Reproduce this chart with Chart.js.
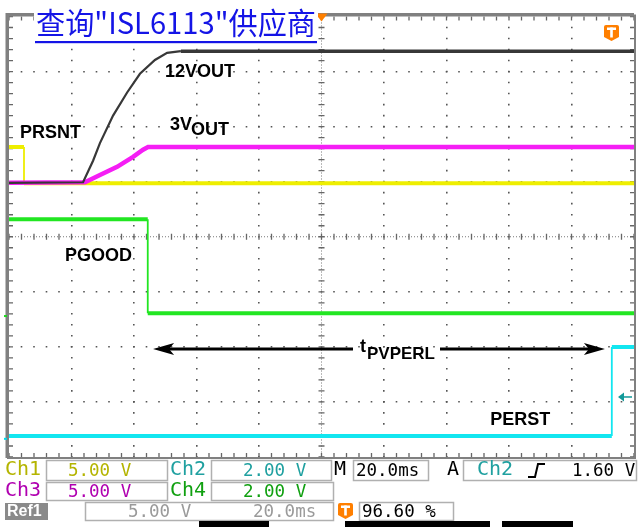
<!DOCTYPE html>
<html>
<head>
<meta charset="utf-8">
<script src="https://cdn.jsdelivr.net/npm/chart.js@4.4.1/dist/chart.umd.min.js"></script>
<style>
  html, body { margin: 0; padding: 0; background: #fff; overflow: hidden; }
  canvas { display: block; }
</style>
</head>
<body>
<canvas id="scope" width="639" height="527"></canvas>
<script>
// scope screen: 20 ms/div over 10 div, vertical in divisions (0 = bottom, 8 = top)
const xTicks = [0, 20, 40, 60, 80, 100, 120, 140, 160, 180, 200];
const yTicks = [0, 1, 2, 3, 4, 5, 6, 7, 8];

// Ch1 - PRSNT (yellow)
const ch1Time  = [0, 4.8, 4.8, 200];
const ch1Level = [5.63, 5.63, 4.97, 4.97];

// 12VOUT (black)
const v12Time  = [0, 23.7, 26.9, 29.1, 33.3, 37.8, 41.9, 46.7, 50.6, 55, 200];
const v12Level = [4.98, 4.99, 5.38, 5.70, 6.20, 6.62, 6.96, 7.21, 7.34, 7.37, 7.37];

// Ch3 - 3VOUT (magenta)
const ch3Time  = [0, 24.3, 29.1, 34.6, 39.7, 42.9, 44.5, 200];
const ch3Level = [4.98, 4.99, 5.12, 5.27, 5.45, 5.58, 5.63, 5.63];

// Ch4 - PGOOD (green)
const ch4Time  = [0, 44.4, 44.4, 200];
const ch4Level = [4.32, 4.32, 2.61, 2.61];

// Ch2 - PERST (cyan)
const ch2Time  = [0, 192.9, 192.9, 200];
const ch2Level = [0.38, 0.38, 2.00, 2.00];

// tPVPERL arrow (ms) and its level (div)
const arrowSpan = [46.1, 190.7];
const arrowLevel = 1.96;

const pts = (xs, ys) => xs.map((x, i) => ({ x: x, y: ys[i] }));
const edgeWidth = w => ctx => ctx.p0.parsed.x === ctx.p1.parsed.x ? 1.8 : w;
const flatWidth = (wFlat, wRamp) => ctx => ctx.p0.parsed.y === ctx.p1.parsed.y ? wFlat : wRamp;

const MONO = '"DejaVu Sans Mono", monospace';
const BOLD = 'bold 18px "Liberation Sans", Arial, sans-serif';
const SUB = 'bold 17px "Liberation Sans", Arial, sans-serif';

function box(ctx, x1, y1, x2, y2) {
    ctx.strokeStyle = '#b0b0b0';
    ctx.lineWidth = 1.5;
    ctx.strokeRect(x1 + 0.5, y1 + 0.5, x2 - x1, y2 - y1);
}

function txt(ctx, s, x, y, color, font) {
    ctx.fillStyle = color;
    ctx.font = font;
    ctx.textBaseline = 'middle';
    ctx.textAlign = 'left';
    ctx.fillText(s, x, y);
}

function tIcon(ctx, x, y) {
    ctx.fillStyle = '#ff7f00';
    ctx.beginPath();
    ctx.moveTo(x + 2, y);
    ctx.lineTo(x + 13, y);
    ctx.quadraticCurveTo(x + 15, y, x + 15, y + 2);
    ctx.lineTo(x + 15, y + 12);
    ctx.lineTo(x + 7.5, y + 16);
    ctx.lineTo(x, y + 12);
    ctx.lineTo(x, y + 2);
    ctx.quadraticCurveTo(x, y, x + 2, y);
    ctx.fill();
    ctx.fillStyle = '#fff';
    ctx.fillRect(x + 3, y + 2.5, 9, 2.5);
    ctx.fillRect(x + 6.2, y + 2.5, 2.6, 10);
}

const scopePlugin = {
    id: 'scope',
    beforeDraw(chart) {
        const c = chart.ctx;
        c.save();
        c.fillStyle = '#fff';
        c.fillRect(0, 0, chart.width, chart.height);
        c.restore();
    },
    beforeDatasetsDraw(chart) {
        const c = chart.ctx;
        const a = chart.chartArea;
        const sx = chart.scales.x, sy = chart.scales.y;
        const cx = sx.getPixelForValue(100), cy = sy.getPixelForValue(4);
        const subX = (sx.getPixelForValue(20) - sx.getPixelForValue(0)) / 5;
        const subY = (sy.getPixelForValue(0) - sy.getPixelForValue(1)) / 5;
        c.save();
        // centre cross: fine dots with small ticks
        c.strokeStyle = '#777';
        c.lineWidth = 1;
        c.setLineDash([1, 2]);
        c.beginPath();
        c.moveTo(cx, a.top); c.lineTo(cx, a.bottom);
        c.moveTo(a.left, cy); c.lineTo(a.right, cy);
        c.stroke();
        c.setLineDash([]);
        c.strokeStyle = '#666';
        c.lineWidth = 1.3;
        c.beginPath();
        for (let i = 0; i <= 40; i++) {
            const y = a.top + i * subY;
            c.moveTo(cx - 3, y); c.lineTo(cx + 3, y);
            c.moveTo(a.left, y); c.lineTo(a.left + 4, y);
            c.moveTo(a.right - 4, y); c.lineTo(a.right, y);
        }
        for (let i = 0; i <= 50; i++) {
            const x = a.left + i * subX;
            c.moveTo(x, cy - 3); c.lineTo(x, cy + 3);
            c.moveTo(x, a.top); c.lineTo(x, a.top + 4);
            c.moveTo(x, a.bottom - 4); c.lineTo(x, a.bottom);
        }
        c.stroke();
        // frame
        c.strokeStyle = '#808080';
        c.lineWidth = 2;
        c.strokeRect(a.left - 1, a.top - 1, a.right - a.left + 2, a.bottom - a.top + 2);
        c.lineWidth = 3;
        c.beginPath();
        c.moveTo(a.left - 2, a.bottom + 1); c.lineTo(a.left - 2, a.top - 2); c.lineTo(a.right, a.top - 2);
        c.stroke();
        c.restore();
    },
    afterDatasetsDraw(chart) {
        const c = chart.ctx;
        const a = chart.chartArea;
        const sx = chart.scales.x, sy = chart.scales.y;
        const px = v => sx.getPixelForValue(v), py = v => sy.getPixelForValue(v);
        c.save();

        // trace labels
        txt(c, 'PRSNT', px(3.5), py(5.88), '#000', BOLD);
        txt(c, '12VOUT', px(49.9), py(6.99), '#000', BOLD);
        txt(c, '3V', px(51.5), py(6.02), '#000', BOLD);
        txt(c, 'OUT', px(51.5) + c.measureText('3V').width - 1, py(6.02) + 5, '#000', BOLD);
        txt(c, 'PGOOD', px(17.9), py(3.65), '#000', BOLD);
        txt(c, 'PERST', px(154), py(0.67), '#000', BOLD);

        // tPVPERL arrow
        const ay = py(arrowLevel);
        const ax1 = px(arrowSpan[0]), ax2 = px(arrowSpan[1]);
        c.font = BOLD;
        const tW = c.measureText('t').width;
        c.font = SUB;
        const subW = c.measureText('PVPERL').width;
        const labX = (ax1 + ax2) / 2 + 18 - (tW + subW) / 2;
        txt(c, 't', labX, ay - 2, '#000', BOLD);
        txt(c, 'PVPERL', labX + tW + 1, ay + 5, '#000', SUB);
        c.strokeStyle = '#000';
        c.lineWidth = 3;
        c.beginPath();
        c.moveTo(ax1 + 10, ay); c.lineTo(labX - 7, ay);
        c.moveTo(labX + tW + subW + 6, ay); c.lineTo(ax2 - 10, ay);
        c.stroke();
        c.fillStyle = '#000';
        c.beginPath();
        c.moveTo(ax1, ay); c.lineTo(ax1 + 21, ay - 6); c.lineTo(ax1 + 16, ay); c.lineTo(ax1 + 21, ay + 6); c.closePath();
        c.moveTo(ax2, ay); c.lineTo(ax2 - 21, ay - 6); c.lineTo(ax2 - 16, ay); c.lineTo(ax2 - 21, ay + 6); c.closePath();
        c.fill();

        // trigger position marker (top) and level marker (right)
        const tx = px(100);
        c.fillStyle = '#ff8000';
        c.beginPath();
        c.moveTo(tx - 6, a.top - 3); c.lineTo(tx + 6, a.top - 3); c.lineTo(tx, a.top + 5); c.closePath();
        c.fill();
        tIcon(c, 604, 25);
        const lv = py(1.09);
        c.strokeStyle = '#129a9a'; c.fillStyle = '#129a9a';
        c.lineWidth = 1.5;
        c.beginPath(); c.moveTo(a.right - 2, lv); c.lineTo(a.right - 12, lv); c.stroke();
        c.beginPath(); c.moveTo(a.right - 16, lv); c.lineTo(a.right - 10, lv - 4.5); c.lineTo(a.right - 10, lv + 4.5); c.closePath(); c.fill();
        // ground markers at the left edge
        c.fillStyle = '#1fd81f';
        c.fillRect(a.left - 5, py(2.56) - 1, 3, 2);
        c.fillStyle = '#00d8e8';
        c.fillRect(a.left - 5, py(0.33) - 1, 3, 2);

        // title
        c.fillStyle = '#fff';
        c.fillRect(34, 0, 284, 40);
        c.fillStyle = '#1414e6';
        c.font = '30px "Noto Sans CJK SC", sans-serif';
        c.textBaseline = 'alphabetic';
        const title = '查询"ISL6113"供应商';
        const w = c.measureText(title).width;
        c.save();
        c.translate(36, 34);
        c.scale(280 / w, 1);
        c.fillText(title, 0, 0);
        c.restore();
        c.fillRect(35, 41, 282, 2.2);

        // status panel
        const F = '17.5px ' + MONO;
        const FL = '20px ' + MONO;
        box(c, 46, 460, 167, 480); box(c, 211, 460, 331, 480);
        box(c, 353, 460, 428, 480); box(c, 463, 460, 636, 480);
        box(c, 46, 482, 167, 500); box(c, 211, 482, 333, 500);
        box(c, 85, 502, 333, 520); box(c, 359, 502, 453, 520);
        txt(c, 'Ch1', 5, 470, '#b4b400', FL);
        txt(c, '5.00 V', 68, 471, '#b4b400', F);
        txt(c, 'Ch2', 170, 470, '#1fa0a0', FL);
        txt(c, '2.00 V', 243, 471, '#1fa0a0', F);
        txt(c, 'M', 334, 470, '#000', FL);
        txt(c, '20.0ms', 356, 471, '#000', F);
        txt(c, 'A', 447, 470, '#000', FL);
        txt(c, 'Ch2', 477, 470, '#1fa0a0', FL);
        c.strokeStyle = '#000'; c.lineWidth = 2;
        c.beginPath();
        c.moveTo(528, 477); c.lineTo(535, 477); c.lineTo(538, 464); c.lineTo(545, 464);
        c.stroke();
        txt(c, '1.60 V', 572, 471, '#000', F);
        txt(c, 'Ch3', 5, 491, '#b000b0', FL);
        txt(c, '5.00 V', 68, 492, '#b000b0', F);
        txt(c, 'Ch4', 170, 491, '#10a010', FL);
        txt(c, '2.00 V', 243, 492, '#10a010', F);
        c.fillStyle = '#8a8a8a';
        c.fillRect(5, 503, 43, 17);
        txt(c, 'Ref1', 7, 512, '#fff', 'bold 16px "Liberation Sans", Arial, sans-serif');
        txt(c, '5.00 V', 128, 512, '#9a9a9a', F);
        txt(c, '20.0ms', 253, 512, '#9a9a9a', F);
        tIcon(c, 338, 503);
        txt(c, '96.60 %', 362, 512, '#000', F);
        c.fillStyle = '#000';
        c.fillRect(199, 521, 70, 6);
        c.fillRect(345, 521, 145, 6);
        c.fillRect(502, 521, 71, 6);
        c.restore();
    }
};

new Chart(document.getElementById('scope'), {
    type: 'line',
    data: {
        datasets: [
            { label: 'PERST', data: pts(ch2Time, ch2Level), borderColor: '#12e6f0', borderWidth: 4, order: 5,
              segment: { borderWidth: edgeWidth(4) } },
            { label: 'PGOOD', data: pts(ch4Time, ch4Level), borderColor: '#22e622', borderWidth: 4, order: 4,
              segment: { borderWidth: edgeWidth(4) } },
            { label: 'PRSNT', data: pts(ch1Time, ch1Level), borderColor: '#eeee00', borderWidth: 4, order: 3,
              segment: { borderWidth: edgeWidth(4) } },
            { label: '3VOUT', data: pts(ch3Time, ch3Level), borderColor: '#f51ef5', borderWidth: 4.5, order: 2 },
            { label: '12VOUT', data: pts(v12Time, v12Level), borderColor: '#383838', borderWidth: 2.5, order: 1,
              segment: { borderWidth: flatWidth(3.5, 2.2) } }
        ]
    },
    options: {
        responsive: false,
        animation: false,
        layout: { autoPadding: false, padding: { left: 9, top: 16.5, right: 5, bottom: 70 } },
        plugins: { legend: { display: false }, tooltip: { enabled: false } },
        elements: { point: { radius: 0 }, line: { tension: 0, fill: false } },
        scales: {
            x: {
                type: 'linear', min: xTicks[0], max: xTicks[xTicks.length - 1],
                afterBuildTicks: s => { s.ticks = xTicks.map(v => ({ value: v })); },
                ticks: { display: false },
                grid: { drawTicks: false, tickLength: 0, lineWidth: 1.6,
                        color: ctx => (ctx.index === 0 || ctx.index === 5 || ctx.index === 10) ? 'rgba(0,0,0,0)' : '#555' },
                border: { display: false, dash: [1.6, 9.41], dashOffset: 0.8 }
            },
            y: {
                type: 'linear', min: yTicks[0], max: yTicks[yTicks.length - 1],
                afterBuildTicks: s => { s.ticks = yTicks.map(v => ({ value: v })); },
                ticks: { display: false },
                grid: { drawTicks: false, tickLength: 0, lineWidth: 1.6,
                        color: ctx => (ctx.index === 0 || ctx.index === 4 || ctx.index === 8) ? 'rgba(0,0,0,0)' : '#555' },
                border: { display: false, dash: [1.6, 10.9], dashOffset: 0.8 }
            }
        }
    },
    plugins: [scopePlugin]
});
</script>
</body>
</html>
